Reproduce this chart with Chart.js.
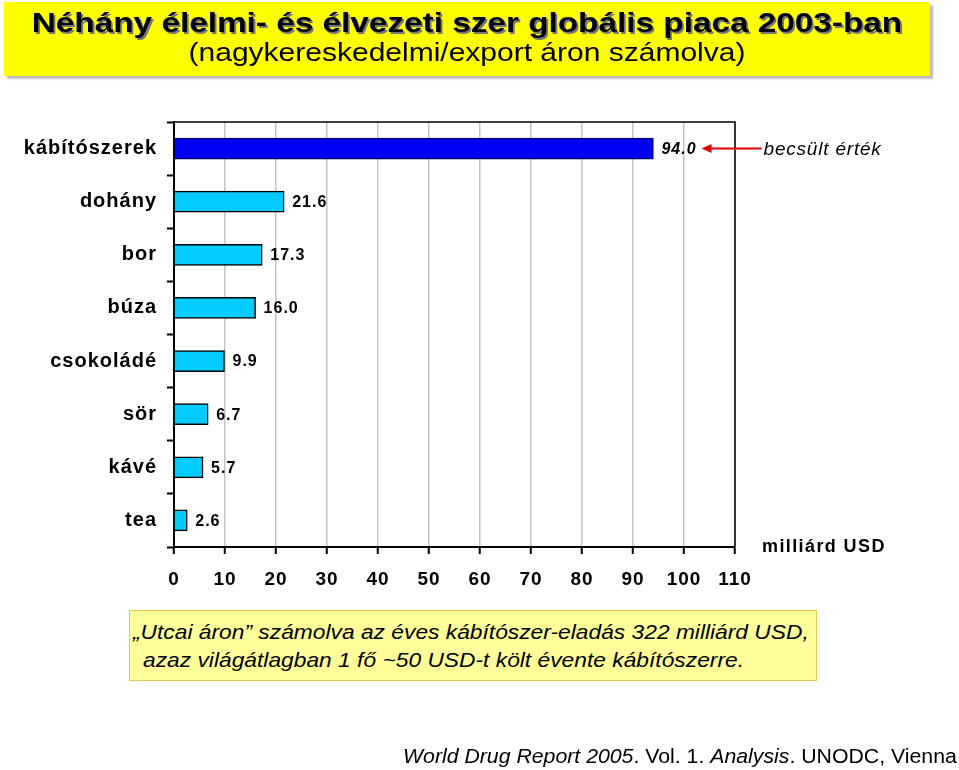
<!DOCTYPE html>
<html>
<head>
<meta charset="utf-8">
<script src="https://cdn.jsdelivr.net/npm/chart.js@4/dist/chart.umd.min.js"></script>
<style>
	html, body { margin: 0; padding: 0; background: #fff; }
	body { width: 959px; height: 770px; position: relative; overflow: hidden; font-family: "Liberation Sans", Arial, sans-serif; }
	#wrap { position: absolute; left: 0; top: 0; width: 959px; height: 770px; }
	.titlebox { position: absolute; left: 4px; top: 2px; width: 926px; height: 74px; background: #ffff00; box-shadow: 3px 3px 2px #bbb; text-align: center; }
	.title { position: absolute; left: 0; right: 0; top: 5px; font-size: 28px; font-weight: bold; color: #000; text-shadow: 1.5px 1.5px 0 #777; transform: scaleX(1.19); }
	.subtitle { position: absolute; left: 0; right: 0; top: 36px; font-size: 25px; color: #000; transform: scaleX(1.2); }
	.note { position: absolute; left: 129px; top: 610px; width: 686px; height: 69px; background: #ffff99; border: 1px solid #e8c84a; font-style: italic; font-size: 21px; color: #000; }
	.note div { position: absolute; white-space: nowrap; transform: scaleX(1.085); transform-origin: left center; }
	.unit { position: absolute; left: 762px; top: 536px; font-size: 18px; font-weight: bold; letter-spacing: 1.4px; }
	.footer { position: absolute; left: 403px; top: 745px; font-size: 20px; white-space: nowrap; transform: scaleX(1.063); transform-origin: left center; }
</style>
</head>
<body>
<div id="wrap"><canvas id="myChart" width="959" height="770"></canvas></div>
<div class="titlebox">
	<div class="title">Néhány élelmi- és élvezeti szer globális piaca 2003-ban</div>
	<div class="subtitle">(nagykereskedelmi/export áron számolva)</div>
</div>
<div class="unit">milliárd USD</div>
<div class="note">
	<div style="left:3px; top:9px;">„Utcai áron” számolva az éves kábítószer-eladás 322 milliárd USD,</div>
	<div style="left:13px; top:37px;">azaz világátlagban 1 fő ~50 USD-t költ évente kábítószerre.</div>
</div>
<div class="footer"><i>World Drug Report 2005</i>. Vol. 1. <i>Analysis</i>. UNODC, Vienna</div>
<script>
(() => {
	'use strict'

	const categories = ['kábítószerek', 'dohány', 'bor', 'búza', 'csokoládé', 'sör', 'kávé', 'tea'];
	const values = [94.0, 21.6, 17.3, 16.0, 9.9, 6.7, 5.7, 2.6];
	const xTicks = [0, 10, 20, 30, 40, 50, 60, 70, 80, 90, 100, 110];
	const estimateNote = 'becsült érték';

	const fontFamily = '"Liberation Sans", Arial, sans-serif';
	const barColors = values.map((v, i) => i === 0 ? '#0000f2' : '#00ccff');
	const barBorders = values.map((v, i) => i === 0 ? '#00006e' : '#000000');

	const spacingPlugin = {
		id: 'spacing',
		beforeDraw(chart) {
			chart.ctx.letterSpacing = '1px';
		}
	};

	const frameAndLabels = {
		id: 'frameAndLabels',
		afterDatasetsDraw(chart) {
			const ctx = chart.ctx;
			const area = chart.chartArea;
			ctx.save();
			// top and right frame
			ctx.strokeStyle = '#000';
			ctx.lineWidth = 1.5;
			ctx.beginPath();
			ctx.moveTo(area.left, area.top);
			ctx.lineTo(area.right, area.top);
			ctx.lineTo(area.right, area.bottom);
			ctx.stroke();

			// value labels
			const meta = chart.getDatasetMeta(0);
			ctx.fillStyle = '#000';
			ctx.textBaseline = 'middle';
			ctx.textAlign = 'left';
			meta.data.forEach((bar, i) => {
				const text = values[i].toFixed(1);
				ctx.font = (i === 0 ? 'italic bold ' : 'bold ') + '16px ' + fontFamily;
				ctx.fillText(text, bar.x + 8, bar.y + 1);
				if (i === 0) {
					const x0 = bar.x + 8 + ctx.measureText(text).width + 5;
					const x1 = x0 + 60;
					ctx.strokeStyle = '#e00000';
					ctx.fillStyle = '#e00000';
					ctx.lineWidth = 2;
					ctx.beginPath();
					ctx.moveTo(x0 + 8, bar.y);
					ctx.lineTo(x1, bar.y);
					ctx.stroke();
					ctx.beginPath();
					ctx.moveTo(x0, bar.y);
					ctx.lineTo(x0 + 10, bar.y - 4.5);
					ctx.lineTo(x0 + 10, bar.y + 4.5);
					ctx.closePath();
					ctx.fill();
					ctx.fillStyle = '#000';
					ctx.letterSpacing = '0.8px';
					ctx.font = 'italic 19px ' + fontFamily;
					ctx.fillText(estimateNote, x1 + 2, bar.y + 1);
					ctx.letterSpacing = '1px';
				}
			});
			ctx.restore();
		}
	};

	const ctx = document.getElementById('myChart');

	new Chart(ctx, {
		type: 'bar',
		data: {
			labels: categories,
			datasets: [{
				data: values,
				backgroundColor: barColors,
				borderColor: barBorders,
				borderWidth: 1.5,
				barThickness: 21
			}]
		},
		options: {
			indexAxis: 'y',
			responsive: false,
			animation: false,
			layout: {
				padding: { top: 122, right: 224, bottom: 163, left: 0 }
			},
			plugins: {
				legend: { display: false },
				tooltip: { enabled: false }
			},
			scales: {
				x: {
					min: 0,
					max: 110,
					afterBuildTicks: (scale) => {
						scale.ticks = xTicks.map(v => ({ value: v }));
					},
					afterFit: (scale) => {
						scale.height = 60;
					},
					ticks: {
						color: '#000',
						padding: 14,
						font: { family: fontFamily, size: 19, weight: 'bold' }
					},
					grid: {
						color: '#c4c4c4',
						lineWidth: 1.5,
						tickColor: '#000',
						tickLength: 7,
						tickWidth: 2
					},
					border: { color: '#000', width: 2 }
				},
				y: {
					afterFit: (scale) => {
						scale.width = 174;
					},
					ticks: {
						color: '#000',
						padding: 10,
						font: { family: fontFamily, size: 20, weight: 'bold' }
					},
					grid: {
						drawOnChartArea: false,
						tickColor: '#000',
						tickLength: 7,
						tickWidth: 2
					},
					border: { color: '#000', width: 2 }
				}
			}
		},
		plugins: [spacingPlugin, frameAndLabels]
	});
})()
</script>
</body>
</html>
